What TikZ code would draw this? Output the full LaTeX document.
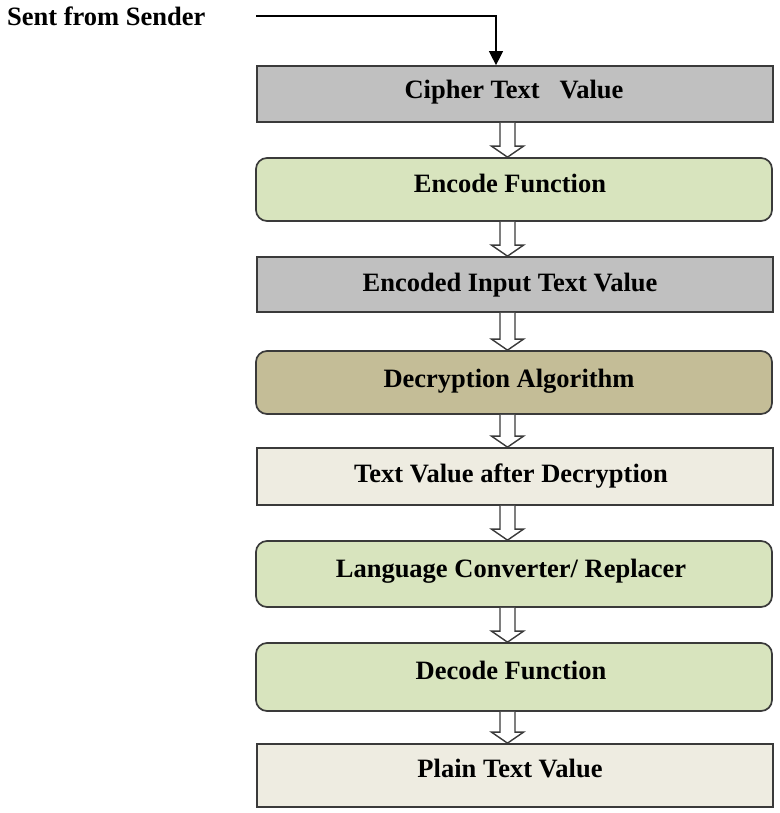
\documentclass[tikz,border=0pt]{standalone}
\usepackage{fontspec}
\setmainfont{Liberation Serif}
\usetikzlibrary{arrows.meta,calc}

\definecolor{edgegray}{HTML}{3A3A3A}
\definecolor{boxgray}{HTML}{C0C0C0}
\definecolor{boxgreen}{HTML}{D8E4BE}
\definecolor{boxtan}{HTML}{C4BD97}
\definecolor{boxbeige}{HTML}{EEECE1}

\tikzset{
  stage/.style={draw=edgegray, line width=1.7pt, minimum width=516pt, inner sep=0pt},
  flatbox/.style={stage},
  roundbox/.style={stage, rounded corners=11pt},
  stagetext/.style={anchor=base, inner sep=0pt,
    font=\fontsize{26.5}{30}\selectfont\bfseries, text=black},
  hollowarrow/.style={draw=edgegray, fill=white, line width=1.4pt, line join=miter},
  feedline/.style={draw=black, line width=1.3pt, -{Triangle[width=14pt,length=14pt]}},
}

% hollow block arrow from the bottom of #1 to the top of #2
\newcommand\stagearrow[2]{%
  \path[hollowarrow] let \p1=(#1.south), \p2=(#2.north) in
    (507.5pt-7.5pt,\y1) -- (507.5pt-7.5pt,\y2+11pt) -- (507.5pt-16pt,\y2+11pt) --
    (507.5pt,\y2) -- (507.5pt+16pt,\y2+11pt) -- (507.5pt+7.5pt,\y2+11pt) --
    (507.5pt+7.5pt,\y1);}

\begin{document}
\begin{tikzpicture}[x=1pt,y=-1pt]
  \useasboundingbox (0,0) rectangle (779,813);

  % stages, top to bottom
  \node[flatbox, fill=boxgray,  minimum height=56pt] (cipher)   at (515,94)    {};
  \node[roundbox, fill=boxgreen, minimum height=63pt] (encode)   at (514,189.5) {};
  \node[flatbox, fill=boxgray,  minimum height=55pt] (encoded)  at (515,284.5) {};
  \node[roundbox, fill=boxtan,   minimum height=63pt] (decrypt)  at (514,382.5) {};
  \node[flatbox, fill=boxbeige, minimum height=57pt] (afterdec) at (515,476.5) {};
  \node[roundbox, fill=boxgreen, minimum height=66pt] (convert)  at (514,574)   {};
  \node[roundbox, fill=boxgreen, minimum height=68pt] (decode)   at (514,677)   {};
  \node[flatbox, fill=boxbeige, minimum height=63pt] (plain)    at (515,775.5) {};

  % captions, placed by their baselines
  \node[stagetext] (cipher-text)   at (514,99)  {Cipher Text\ \ \ Value};
  \node[stagetext] (encode-text)   at (510,193) {Encode Function};
  \node[stagetext] (encoded-text)  at (510,291) {Encoded Input Text Value};
  \node[stagetext] (decrypt-text)  at (509,387) {Decryption Algorithm};
  \node[stagetext] (afterdec-text) at (511,482) {Text Value after Decryption};
  \node[stagetext] (convert-text)  at (511,577) {Language Converter/ Replacer};
  \node[stagetext] (decode-text)   at (511,679) {Decode Function};
  \node[stagetext] (plain-text)    at (510,777) {Plain Text Value};

  % incoming message
  \node[anchor=west, inner sep=0pt, font=\fontsize{26.5}{30}\selectfont\bfseries] (sender) at (7,16) {Sent from Sender};
  \coordinate (feedstart) at (256,16);
  \coordinate (feedbend) at (496,16);
  \draw[feedline] (feedstart) -- (feedbend) -- (feedbend |- cipher.north);

  % flow between stages
  \stagearrow{cipher}{encode}
  \stagearrow{encode}{encoded}
  \stagearrow{encoded}{decrypt}
  \stagearrow{decrypt}{afterdec}
  \stagearrow{afterdec}{convert}
  \stagearrow{convert}{decode}
  \stagearrow{decode}{plain}
\end{tikzpicture}
\end{document}
